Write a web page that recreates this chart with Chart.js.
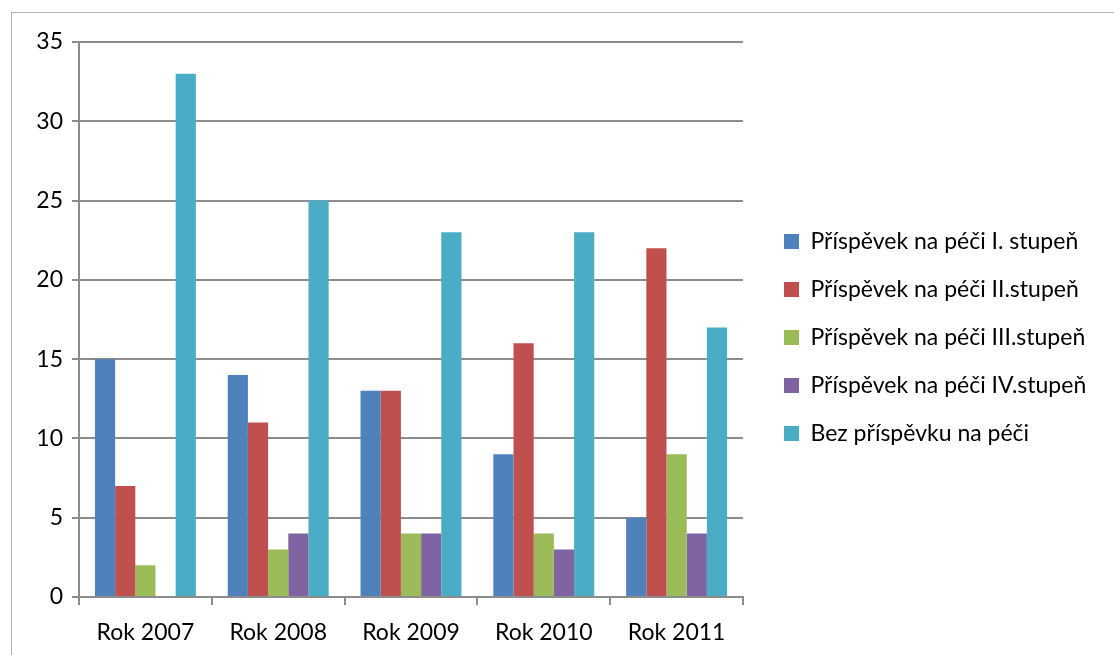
<!DOCTYPE html>
<html lang="cs">
<head>
<meta charset="utf-8">
<title>Příspěvek na péči</title>
<script src="https://cdn.jsdelivr.net/npm/chart.js@4/dist/chart.umd.min.js"></script>
<style>
    html, body { margin: 0; padding: 0; background: #fff; overflow: hidden; }
    #wrap { position: relative; width: 1114px; height: 655px; }
    #frame { position: absolute; left: 11px; top: 12px; width: 1120px; height: 700px; border: 1px solid #b0b0b0; box-sizing: border-box; }
    canvas { position: absolute; left: 0; top: 0; }
</style>
</head>
<body>
<div id="wrap">
    <div id="frame"></div>
    <canvas id="chart" width="1114" height="655"></canvas>
</div>
<script>
// categories and series
const years = ['Rok 2007', 'Rok 2008', 'Rok 2009', 'Rok 2010', 'Rok 2011'];
const seriesNames = [
    'Příspěvek na péči I. stupeň',
    'Příspěvek na péči II.stupeň',
    'Příspěvek na péči III.stupeň',
    'Příspěvek na péči IV.stupeň',
    'Bez příspěvku na péči'
];
const stupen1 = [15, 14, 13, 9, 5];
const stupen2 = [7, 11, 13, 16, 22];
const stupen3 = [2, 3, 4, 4, 9];
const stupen4 = [0, 4, 4, 3, 4];
const bezPrispevku = [33, 25, 23, 23, 17];
const yTicks = [0, 5, 10, 15, 20, 25, 30, 35];

const colors = ['#4F81BD', '#C0504D', '#9BBB59', '#8064A2', '#4BACC6'];
const FONT = 'Lato, "Liberation Sans", sans-serif';
const GRID = '#8c8c8c';
const LEGEND_W = 1114 - 743;

// fixed legend width so the plot ends where the original does,
// then nudge the legend a bit right / up
const legendPlace = {
    id: 'legendPlace',
    beforeLayout(chart) {
        const lg = chart.legend;
        if (!lg || lg._wrapped) return;
        const fit = lg.fit;
        lg.fit = function () {
            fit.call(this);
            this.width = LEGEND_W;
        };
        lg._wrapped = true;
    },
    afterLayout(chart) {
        const lg = chart.legend;
        if (!lg) return;
        lg.left += 16; lg.right += 16;
        lg.top -= 11; lg.bottom -= 11;
    }
};

const allValues = [stupen1, stupen2, stupen3, stupen4, bezPrispevku];

new Chart(document.getElementById('chart'), {
    type: 'bar',
    data: {
        labels: years,
        datasets: seriesNames.map((name, i) => ({
            label: name,
            data: allValues[i],
            backgroundColor: colors[i],
            borderWidth: 0,
            categoryPercentage: 0.76,
            barPercentage: 1
        }))
    },
    options: {
        responsive: false,
        animation: false,
        layout: { padding: { top: 42, left: 0, right: 0, bottom: 0 } },
        plugins: {
            tooltip: { enabled: false },
            legend: {
                position: 'right',
                align: 'center',
                labels: {
                    boxWidth: 15,
                    boxHeight: 15,
                    padding: 25,
                    color: '#000',
                    font: { family: FONT, size: 23 }
                }
            }
        },
        scales: {
            x: {
                grid: { drawOnChartArea: false, drawTicks: true, tickLength: 8, color: GRID, lineWidth: 2 },
                border: { color: GRID, width: 2 },
                ticks: { color: '#000', padding: 14, font: { family: FONT, size: 23 } },
                afterFit(scale) { scale.height = 58; }
            },
            y: {
                min: 0,
                max: 35,
                afterBuildTicks(scale) { scale.ticks = yTicks.map(v => ({ value: v })); },
                grid: { color: GRID, lineWidth: 2, tickLength: 7 },
                border: { color: GRID, width: 2 },
                ticks: { color: '#000', padding: 9, font: { family: FONT, size: 23 } },
                afterFit(scale) { scale.width = 79; }
            }
        }
    },
    plugins: [legendPlace]
});
</script>
</body>
</html>
